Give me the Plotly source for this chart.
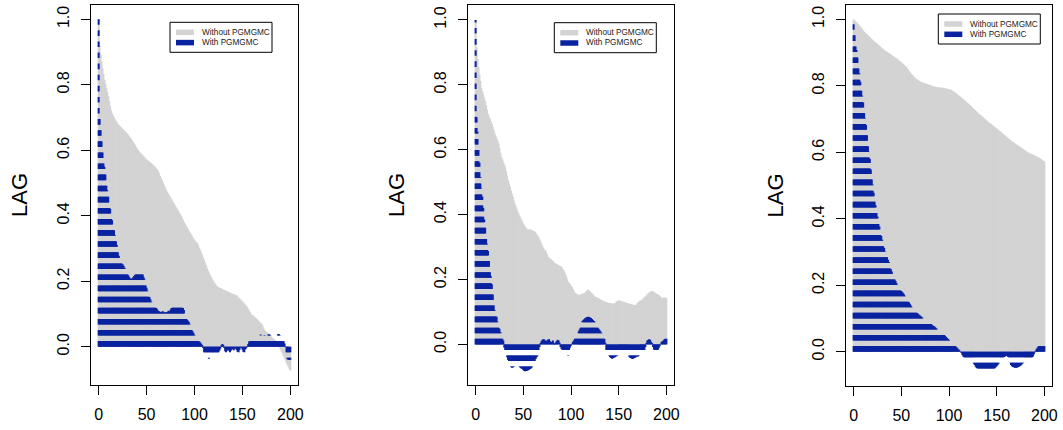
import plotly.graph_objects as go

# ---------------------------------------------------------------------------
# Autocorrelation (lags 0..200) of three chains, without / with PGMGMC
# ---------------------------------------------------------------------------
lags = list(range(201))

acf_without_1 = [
    1.000, 0.920, 0.893, 0.870, 0.850, 0.833, 0.815, 0.803, 0.790, 0.777,
    0.765, 0.750, 0.735, 0.722, 0.713, 0.706, 0.700, 0.695, 0.690, 0.685,
    0.680, 0.677, 0.674, 0.671, 0.668, 0.665, 0.662, 0.659, 0.656, 0.653,
    0.650, 0.646, 0.642, 0.638, 0.634, 0.630, 0.625, 0.620, 0.615, 0.610,
    0.605, 0.601, 0.597, 0.593, 0.590, 0.587, 0.584, 0.581, 0.578, 0.575,
    0.572, 0.570, 0.567, 0.565, 0.562, 0.560, 0.557, 0.554, 0.551, 0.548,
    0.545, 0.541, 0.538, 0.530, 0.522, 0.515, 0.509, 0.502, 0.495, 0.488,
    0.481, 0.475, 0.470, 0.465, 0.460, 0.455, 0.450, 0.445, 0.440, 0.435,
    0.430, 0.425, 0.420, 0.415, 0.410, 0.405, 0.400, 0.394, 0.387, 0.381,
    0.375, 0.370, 0.365, 0.360, 0.355, 0.350, 0.346, 0.341, 0.335, 0.330,
    0.325, 0.322, 0.319, 0.316, 0.309, 0.302, 0.295, 0.288, 0.280, 0.272,
    0.265, 0.257, 0.249, 0.240, 0.233, 0.227, 0.220, 0.214, 0.209, 0.203,
    0.198, 0.194, 0.190, 0.186, 0.183, 0.181, 0.180, 0.179, 0.178, 0.176,
    0.174, 0.173, 0.172, 0.170, 0.169, 0.168, 0.166, 0.165, 0.163, 0.162,
    0.161, 0.160, 0.159, 0.158, 0.156, 0.153, 0.150, 0.147, 0.144, 0.141,
    0.138, 0.135, 0.132, 0.128, 0.124, 0.120, 0.115, 0.110, 0.105, 0.100,
    0.097, 0.095, 0.092, 0.090, 0.087, 0.084, 0.081, 0.078, 0.075, 0.072,
    0.070, 0.064, 0.057, 0.051, 0.048, 0.045, 0.042, 0.040, 0.036, 0.033,
    0.030, 0.028, 0.025, 0.022, 0.020, 0.017, 0.014, 0.010, 0.004, -0.003,
    -0.010, -0.016, -0.022, -0.029, -0.036, -0.042, -0.049, -0.055, -0.061, -0.067,
    -0.073,
]

acf_with_1 = [
    1.000, 0.700, 0.665, 0.632, 0.602, 0.575, 0.550, 0.527, 0.503, 0.478,
    0.458, 0.440, 0.421, 0.403, 0.386, 0.371, 0.356, 0.341, 0.326, 0.311,
    0.292, 0.278, 0.268, 0.262, 0.257, 0.252, 0.247, 0.241, 0.232, 0.226,
    0.222, 0.218, 0.212, 0.208, 0.207, 0.209, 0.212, 0.216, 0.220, 0.222,
    0.221, 0.223, 0.224, 0.222, 0.221, 0.224, 0.221, 0.212, 0.205, 0.195,
    0.180, 0.171, 0.160, 0.152, 0.145, 0.137, 0.128, 0.124, 0.121, 0.120,
    0.118, 0.114, 0.110, 0.108, 0.106, 0.107, 0.104, 0.108, 0.105, 0.103,
    0.106, 0.104, 0.107, 0.110, 0.106, 0.113, 0.118, 0.119, 0.121, 0.120,
    0.119, 0.121, 0.122, 0.120, 0.119, 0.121, 0.123, 0.120, 0.118, 0.112,
    0.094, 0.088, 0.083, 0.080, 0.076, 0.070, 0.060, 0.052, 0.047, 0.042,
    0.036, 0.030, 0.026, 0.022, 0.019, 0.016, 0.013, 0.009, 0.005, -0.004,
    -0.018, -0.022, -0.024, -0.025, -0.023, -0.037, -0.022, -0.021, -0.020, -0.019,
    -0.020, -0.022, -0.021, -0.020, -0.019, -0.018, -0.012, -0.006, 0.004, 0.008,
    0.006, -0.004, -0.014, -0.020, -0.009, -0.012, -0.006, -0.017, -0.012, -0.005,
    -0.008, -0.011, -0.004, -0.006, -0.010, -0.016, -0.018, -0.010, -0.004, -0.003,
    -0.009, -0.016, -0.019, -0.008, -0.005, 0.002, 0.008, 0.016, 0.019, 0.021,
    0.020, 0.022, 0.021, 0.020, 0.022, 0.021, 0.020, 0.022, 0.023, 0.037,
    0.024, 0.022, 0.025, 0.036, 0.024, 0.023, 0.026, 0.037, 0.038, 0.036,
    0.027, 0.025, 0.024, 0.026, 0.025, 0.023, 0.027, 0.038, 0.039, 0.036,
    0.024, 0.021, 0.019, 0.017, 0.010, 0.002, -0.020, -0.038, -0.040, -0.041,
    -0.040,
]

acf_without_2 = [
    1.000, 0.916, 0.880, 0.854, 0.832, 0.812, 0.790, 0.780, 0.770, 0.760,
    0.750, 0.737, 0.723, 0.710, 0.702, 0.695, 0.688, 0.680, 0.670, 0.660,
    0.650, 0.643, 0.635, 0.628, 0.620, 0.605, 0.590, 0.577, 0.570, 0.562,
    0.555, 0.547, 0.533, 0.520, 0.506, 0.496, 0.486, 0.475, 0.465, 0.455,
    0.444, 0.434, 0.426, 0.418, 0.410, 0.403, 0.396, 0.390, 0.383, 0.378,
    0.372, 0.367, 0.362, 0.358, 0.355, 0.352, 0.354, 0.355, 0.353, 0.352,
    0.350, 0.349, 0.347, 0.343, 0.339, 0.335, 0.330, 0.323, 0.317, 0.310,
    0.303, 0.297, 0.290, 0.290, 0.283, 0.277, 0.270, 0.267, 0.264, 0.262,
    0.260, 0.257, 0.253, 0.250, 0.249, 0.247, 0.246, 0.244, 0.242, 0.241,
    0.239, 0.234, 0.229, 0.224, 0.218, 0.210, 0.201, 0.193, 0.189, 0.185,
    0.181, 0.177, 0.171, 0.165, 0.159, 0.157, 0.155, 0.153, 0.152, 0.153,
    0.153, 0.154, 0.156, 0.157, 0.158, 0.159, 0.163, 0.166, 0.169, 0.166,
    0.163, 0.160, 0.157, 0.154, 0.150, 0.147, 0.146, 0.145, 0.143, 0.142,
    0.140, 0.138, 0.136, 0.135, 0.133, 0.132, 0.131, 0.130, 0.129, 0.128,
    0.127, 0.127, 0.126, 0.126, 0.125, 0.126, 0.126, 0.129, 0.132, 0.134,
    0.136, 0.135, 0.134, 0.133, 0.132, 0.131, 0.130, 0.129, 0.128, 0.127,
    0.126, 0.125, 0.125, 0.124, 0.123, 0.122, 0.122, 0.121, 0.121, 0.124,
    0.128, 0.131, 0.133, 0.135, 0.136, 0.139, 0.142, 0.145, 0.147, 0.150,
    0.154, 0.157, 0.159, 0.161, 0.163, 0.164, 0.163, 0.161, 0.159, 0.157,
    0.155, 0.154, 0.152, 0.149, 0.146, 0.142, 0.143, 0.144, 0.144, 0.144,
    0.142,
]

acf_with_2 = [
    1.000, 0.700, 0.655, 0.600, 0.560, 0.515, 0.480, 0.455, 0.420, 0.385,
    0.360, 0.330, 0.310, 0.288, 0.265, 0.235, 0.210, 0.185, 0.160, 0.125,
    0.105, 0.095, 0.085, 0.070, 0.058, 0.048, 0.038, 0.028, 0.020, 0.012,
    -0.010, -0.022, -0.030, -0.040, -0.048, -0.055, -0.062, -0.070, -0.072, -0.071,
    -0.070, -0.068, -0.063, -0.060, -0.062, -0.066, -0.070, -0.072, -0.074, -0.076,
    -0.079, -0.082, -0.083, -0.082, -0.081, -0.080, -0.078, -0.076, -0.074, -0.071,
    -0.068, -0.060, -0.052, -0.045, -0.040, -0.036, -0.020, -0.008, 0.004, 0.010,
    0.014, 0.016, 0.015, 0.012, 0.009, 0.012, 0.015, 0.016, 0.010, 0.004,
    0.008, 0.012, 0.004, -0.002, 0.006, 0.010, 0.014, 0.012, 0.005, -0.008,
    -0.014, -0.018, -0.020, -0.022, -0.024, -0.022, -0.020, -0.036, -0.018, -0.010,
    -0.004, 0.002, 0.008, 0.012, 0.018, 0.021, 0.026, 0.032, 0.040, 0.046,
    0.055, 0.068, 0.072, 0.075, 0.078, 0.081, 0.083, 0.084, 0.085, 0.084,
    0.083, 0.081, 0.078, 0.075, 0.072, 0.070, 0.068, 0.058, 0.052, 0.048,
    0.044, 0.040, 0.036, 0.034, 0.024, 0.019, 0.005, -0.018, -0.024, -0.030,
    -0.036, -0.040, -0.042, -0.044, -0.043, -0.041, -0.040, -0.038, -0.036, -0.035,
    -0.032, -0.028, -0.026, -0.024, -0.025, -0.027, -0.030, -0.033, -0.032, -0.030,
    -0.034, -0.038, -0.041, -0.043, -0.044, -0.044, -0.043, -0.041, -0.040, -0.036,
    -0.038, -0.036, -0.034, -0.028, -0.024, -0.022, -0.020, -0.018, -0.008, 0.004,
    0.012, 0.014, 0.016, 0.014, 0.008, 0.004, -0.008, -0.016, -0.020, -0.022,
    -0.020, -0.018, -0.012, -0.006, 0.002, 0.008, 0.010, 0.012, 0.016, 0.020,
    0.022,
]

acf_without_3 = [
    1.000, 0.997, 0.994, 0.991, 0.988, 0.985, 0.981, 0.978, 0.974, 0.970,
    0.966, 0.963, 0.960, 0.957, 0.955, 0.952, 0.949, 0.946, 0.943, 0.940,
    0.937, 0.935, 0.933, 0.930, 0.928, 0.925, 0.923, 0.920, 0.918, 0.915,
    0.913, 0.910, 0.908, 0.906, 0.904, 0.902, 0.900, 0.898, 0.896, 0.894,
    0.892, 0.890, 0.888, 0.886, 0.884, 0.882, 0.880, 0.877, 0.875, 0.873,
    0.870, 0.868, 0.865, 0.863, 0.860, 0.857, 0.853, 0.849, 0.845, 0.841,
    0.837, 0.834, 0.831, 0.828, 0.825, 0.822, 0.820, 0.818, 0.816, 0.814,
    0.812, 0.811, 0.810, 0.809, 0.808, 0.807, 0.806, 0.805, 0.804, 0.803,
    0.802, 0.801, 0.800, 0.799, 0.798, 0.797, 0.797, 0.796, 0.796, 0.795,
    0.795, 0.795, 0.794, 0.794, 0.793, 0.793, 0.792, 0.792, 0.791, 0.790,
    0.790, 0.789, 0.788, 0.786, 0.784, 0.782, 0.780, 0.778, 0.776, 0.773,
    0.771, 0.769, 0.767, 0.765, 0.762, 0.760, 0.757, 0.755, 0.752, 0.749,
    0.747, 0.744, 0.742, 0.739, 0.736, 0.733, 0.730, 0.728, 0.725, 0.722,
    0.719, 0.716, 0.714, 0.712, 0.709, 0.707, 0.704, 0.702, 0.699, 0.697,
    0.694, 0.692, 0.689, 0.687, 0.685, 0.683, 0.680, 0.678, 0.676, 0.673,
    0.671, 0.669, 0.666, 0.664, 0.662, 0.660, 0.657, 0.655, 0.652, 0.650,
    0.647, 0.645, 0.642, 0.640, 0.637, 0.635, 0.633, 0.631, 0.629, 0.627,
    0.625, 0.623, 0.621, 0.619, 0.617, 0.615, 0.613, 0.611, 0.609, 0.607,
    0.605, 0.603, 0.601, 0.599, 0.598, 0.597, 0.595, 0.594, 0.593, 0.591,
    0.590, 0.588, 0.587, 0.585, 0.584, 0.582, 0.580, 0.578, 0.576, 0.574,
    0.572,
]

acf_with_3 = [
    1.000, 0.960, 0.930, 0.908, 0.888, 0.865, 0.838, 0.812, 0.790, 0.770,
    0.750, 0.726, 0.703, 0.682, 0.660, 0.628, 0.602, 0.580, 0.548, 0.527,
    0.503, 0.478, 0.458, 0.441, 0.423, 0.407, 0.392, 0.377, 0.362, 0.348,
    0.337, 0.326, 0.312, 0.302, 0.292, 0.284, 0.277, 0.270, 0.260, 0.249,
    0.241, 0.234, 0.227, 0.220, 0.213, 0.206, 0.197, 0.193, 0.189, 0.186,
    0.183, 0.180, 0.176, 0.172, 0.168, 0.162, 0.157, 0.153, 0.149, 0.144,
    0.139, 0.135, 0.130, 0.127, 0.125, 0.122, 0.119, 0.116, 0.113, 0.110,
    0.108, 0.105, 0.103, 0.100, 0.097, 0.095, 0.093, 0.091, 0.089, 0.087,
    0.085, 0.083, 0.081, 0.079, 0.077, 0.075, 0.072, 0.070, 0.067, 0.064,
    0.062, 0.060, 0.057, 0.055, 0.053, 0.050, 0.047, 0.044, 0.041, 0.038,
    0.036, 0.034, 0.031, 0.028, 0.025, 0.022, 0.019, 0.016, 0.013, 0.010,
    0.007, 0.004, 0.001, -0.004, -0.010, -0.015, -0.019, -0.022, -0.025, -0.027,
    -0.029, -0.030, -0.031, -0.032, -0.032, -0.033, -0.036, -0.040, -0.045, -0.049,
    -0.052, -0.054, -0.056, -0.057, -0.058, -0.059, -0.060, -0.060, -0.060, -0.060,
    -0.059, -0.058, -0.057, -0.056, -0.055, -0.054, -0.053, -0.052, -0.050, -0.047,
    -0.044, -0.040, -0.036, -0.030, -0.027, -0.024, -0.021, -0.019, -0.016, -0.014,
    -0.012, -0.013, -0.016, -0.025, -0.034, -0.040, -0.044, -0.046, -0.047, -0.048,
    -0.048, -0.048, -0.047, -0.046, -0.044, -0.042, -0.039, -0.036, -0.034, -0.030,
    -0.027, -0.025, -0.024, -0.023, -0.022, -0.021, -0.020, -0.018, -0.015, -0.008,
    -0.002, 0.004, 0.009, 0.013, 0.017, 0.018, 0.018, 0.019, 0.019, 0.020,
    0.020,
]

series_names = ["Without PGMGMC", "With PGMGMC"]
x_ticks = [0, 50, 100, 150, 200]
y_ticks = [0.0, 0.2, 0.4, 0.6, 0.8, 1.0]
y_title = "LAG"

# ---------------------------------------------------------------------------
W, H = 1063, 430
GRAY = "#d3d3d3"
BLUE = "#0a23a0"
FONT = "Liberation Sans, Arial, Helvetica, sans-serif"


def fx(px):
    return px / W


def fy(py):
    return 1 - py / H


def stems(values):
    """Vertical lines from 0 to each autocorrelation (R's type='h')."""
    xs, ys = [], []
    for lag, v in zip(lags, values):
        xs += [lag, lag, None]
        ys += [0, v, None]
    return xs, ys


panels = [
    dict(without=acf_without_1, with_=acf_with_1,
         left=91, right=298, top=5, bottom=385, yrange=[-0.117, 1.0437],
         box=(170, 22.3), title_x=20),
    dict(without=acf_without_2, with_=acf_with_2,
         left=468, right=674, top=5, bottom=385, yrange=[-0.1252, 1.046],
         box=(554.3, 22.7), title_x=397),
    dict(without=acf_without_3, with_=acf_with_3,
         left=846, right=1052, top=5, bottom=386, yrange=[-0.1032, 1.0433],
         box=(938.3, 14.0), title_x=775),
]

fig = go.Figure()
shapes, annotations = [], []

for i, p in enumerate(panels, start=1):
    sfx = "" if i == 1 else str(i)
    xa, ya = "x" + sfx, "y" + sfx

    gx, gy = stems(p["without"])
    fig.add_trace(go.Scatter(x=gx, y=gy, mode="lines", xaxis=xa, yaxis=ya,
                             line=dict(color=GRAY, width=2),
                             name=series_names[0], showlegend=False,
                             hoverinfo="skip"))
    bx, by = stems(p["with_"])
    fig.add_trace(go.Scatter(x=bx, y=by, mode="lines", xaxis=xa, yaxis=ya,
                             line=dict(color=BLUE, width=2, dash="5.6px,5.5px"),
                             name=series_names[1], showlegend=False,
                             hoverinfo="skip"))

    axis_common = dict(showline=True, mirror=True, linecolor="black",
                       linewidth=1, ticks="outside", ticklen=9,
                       tickcolor="black", tickwidth=1, showgrid=False,
                       zeroline=False, automargin=False,
                       tickfont=dict(family=FONT, size=16, color="black"))
    fig.layout["xaxis" + sfx] = dict(
        axis_common, domain=[fx(p["left"]), fx(p["right"])],
        range=[-8, 208], tickvals=x_ticks, anchor=ya, ticklabelstandoff=6)
    fig.layout["yaxis" + sfx] = dict(
        axis_common, domain=[fy(p["bottom"]), fy(p["top"])],
        range=p["yrange"], tickvals=y_ticks,
        ticktext=[f"{v:.1f}" for v in y_ticks], tickangle=-90,
        anchor=xa, ticklabelstandoff=6)

    annotations.append(dict(
        text=y_title, x=fx(p["title_x"]), y=fy((p["top"] + p["bottom"]) / 2),
        xref="paper", yref="paper", showarrow=False, textangle=-90,
        xanchor="center", yanchor="middle",
        font=dict(family=FONT, size=22, color="black")))

    # legend box
    bl, bt = p["box"]
    shapes.append(dict(type="rect", xref="paper", yref="paper",
                       x0=fx(bl), x1=fx(bl + 102), y0=fy(bt + 30), y1=fy(bt),
                       line=dict(color="black", width=1), fillcolor="white",
                       layer="above"))
    for row, (name, col) in enumerate(zip(series_names, [GRAY, BLUE])):
        yy = bt + 10 + row * 10.3
        shapes.append(dict(type="line", xref="paper", yref="paper",
                           x0=fx(bl + 6), x1=fx(bl + 24), y0=fy(yy), y1=fy(yy),
                           line=dict(color=col, width=5.5), layer="above"))
        annotations.append(dict(
            text=name, x=fx(bl + 29.5), y=fy(yy), xref="paper", yref="paper",
            showarrow=False, xanchor="left", yanchor="middle",
            font=dict(family=FONT, size=8.2, color="#222222")))

fig.update_layout(
    width=W, height=H,
    margin=dict(l=0, r=0, t=0, b=0),
    paper_bgcolor="white", plot_bgcolor="white",
    showlegend=False, hovermode=False,
    shapes=shapes, annotations=annotations,
    font=dict(family=FONT),
)

fig.write_html("out.html")
